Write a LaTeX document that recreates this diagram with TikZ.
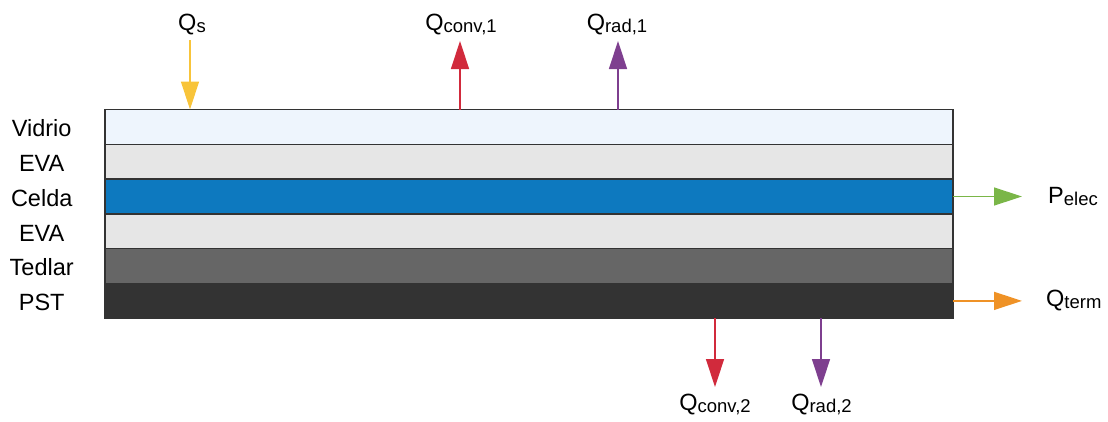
\documentclass[tikz,border=0pt]{standalone}
\usepackage{fontspec}
\setmainfont{Liberation Sans}
\usetikzlibrary{arrows.meta}
\definecolor{cvid}{HTML}{EEF5FD}
\definecolor{ceva}{HTML}{E6E6E6}
\definecolor{ccel}{HTML}{0D79BF}
\definecolor{cted}{HTML}{666666}
\definecolor{cpst}{HTML}{333333}
\definecolor{cyel}{HTML}{F8C43A}
\definecolor{cred}{HTML}{D12A3C}
\definecolor{cpur}{HTML}{7E3F8F}
\definecolor{cgrn}{HTML}{7AB648}
\definecolor{corg}{HTML}{EF9226}
\newcommand\subtx[1]{\raisebox{-2pt}{\fontsize{18.5}{19}\selectfont #1}}
\tikzset{
  layer/.style={draw=black!80, line width=1.4pt, outer sep=0pt, minimum width=848pt, minimum height=34.8pt, inner sep=0pt, anchor=north west},
  lbl/.style={font=\fontsize{23.5}{25}\selectfont, inner sep=0pt, anchor=base},
  flow/.style={line width=1.4pt, -{Triangle[width=18pt,length=28pt]}},
}
\begin{document}
\begin{tikzpicture}[x=1pt,y=-1pt]
\useasboundingbox (0,0) rectangle (1108,421);
\node[layer, fill=cvid] (vid) at (105,109.5) {};
\node[layer, fill=ceva] (eva1) at (105,144.3) {};
\node[layer, fill=ccel] (cel) at (105,179.1) {};
\node[layer, fill=ceva] (eva2) at (105,213.9) {};
\node[layer, fill=cted] (ted) at (105,248.7) {};
\node[layer, fill=cpst] (pst) at (105,283.5) {};
\foreach \n/\t in {vid/Vidrio,eva1/EVA,cel/Celda,eva2/EVA,ted/Tedlar,pst/PST}
  \node[lbl] (l-\n) at ([xshift=-63.3pt,yshift=-9.8pt]\n.west) {\t};
% top arrows
\coordinate (qs0) at (190,40);
\coordinate (qs1) at (190,109.5);
\draw[flow, draw=cyel] (qs0) -- (qs1);
\node[lbl] (qs) at (192,30.5) {Q\subtx{s}};
\coordinate (qc0) at (460,109.5);
\coordinate (qc1) at (460,41);
\draw[flow, draw=cred] (qc0) -- (qc1);
\node[lbl] (qc) at (461,30.5) {Q\subtx{conv,1}};
\coordinate (qr0) at (618,109.5);
\coordinate (qr1) at (618,41);
\draw[flow, draw=cpur] (qr0) -- (qr1);
\node[lbl] (qr) at (617,30.5) {Q\subtx{rad,1}};
% right arrows
\coordinate (pe1) at (1022,196.5);
\draw[flow, draw=cgrn] (cel.east) -- (pe1);
\node[lbl, anchor=base west] (pe) at (1048,203) {P\subtx{elec}};
\coordinate (qt1) at (1022,300.9);
\draw[flow, draw=corg] (pst.east) -- (qt1);
\node[lbl, anchor=base west] (qt) at (1046,306.5) {Q\subtx{term}};
% bottom arrows
\coordinate (qc20) at (715,318.3);
\coordinate (qc21) at (715,387);
\draw[flow, draw=cred] (qc20) -- (qc21);
\node[lbl] (qc2) at (715,410) {Q\subtx{conv,2}};
\coordinate (qr20) at (821,318.3);
\coordinate (qr21) at (821,387);
\draw[flow, draw=cpur] (qr20) -- (qr21);
\node[lbl] (qr2) at (821.5,410) {Q\subtx{rad,2}};
\end{tikzpicture}
\end{document}
